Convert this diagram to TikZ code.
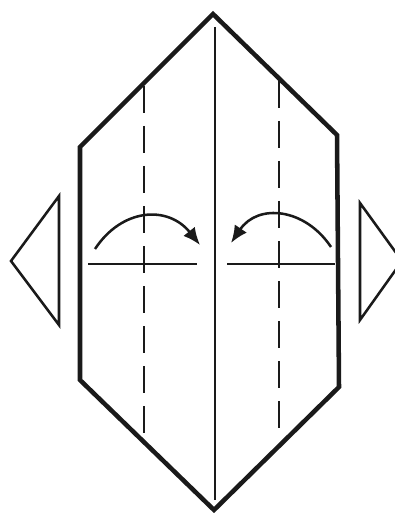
\documentclass[tikz,border=0pt]{standalone}
\usetikzlibrary{arrows.meta}
\definecolor{fold-line}{HTML}{1A1A1A}
\tikzset{
  paper-edge/.style={draw=fold-line, line width=3.4pt, line join=miter},
  crease/.style={draw=fold-line, line width=1.9pt},
  valley/.style={draw=fold-line, line width=1.9pt, dash pattern=on 20pt off 10pt},
  flap/.style={draw=fold-line, line width=1.9pt},
  fold-arrow/.style={draw=fold-line, line width=1.9pt, -{Latex[length=13pt,width=11pt]}}
}
\begin{document}
\begin{tikzpicture}[x=0.75pt,y=-0.75pt]
  \useasboundingbox (0,0) rectangle (395,513);
  % outline
  \coordinate (top) at (213,14);
  \coordinate (ne) at (337,135);
  \coordinate (se) at (339,387);
  \coordinate (bot) at (214,510);
  \coordinate (sw) at (80,380);
  \coordinate (nw) at (80,147);
  \draw[paper-edge] (top) -- (ne) -- (se) -- (bot) -- (sw) -- (nw) -- cycle;
  \coordinate (midtop) at (215,27);
  \coordinate (midbot) at (215,500);
  \draw[crease] (midtop) -- (midbot);
  % dashed folds
  \coordinate (lefttop) at (144,86);
  \coordinate (leftbot) at (144,437);
  \coordinate (righttop) at (279,81);
  \coordinate (rightbot) at (279,437);
  \draw[valley] (lefttop) -- (leftbot);
  \draw[valley] (righttop) -- (rightbot);
  % level lines
  \coordinate (la) at (88,264);
  \coordinate (lb) at (197,264);
  \coordinate (ra) at (227,264);
  \coordinate (rb) at (335,264);
  \draw[crease] (la) -- (lb);
  \draw[crease] (ra) -- (rb);
  % arrows
  \coordinate (arrowla) at (95,249);
  \coordinate (arrowlb) at (200,245);
  \coordinate (arrowra) at (331,247);
  \coordinate (arrowrb) at (231,243);
  \draw[fold-arrow] (arrowla) .. controls (122,208) and (168,205) .. (arrowlb);
  \draw[fold-arrow] (arrowra) .. controls (305,208) and (258,203) .. (arrowrb);
  % side flaps
  \coordinate (fl1) at (59,196);
  \coordinate (fl2) at (11,261);
  \coordinate (fl3) at (59,325);
  \coordinate (fr1) at (360,203);
  \coordinate (fr2) at (402,261);
  \coordinate (fr3) at (360,320);
  \draw[flap] (fl1) -- (fl2) -- (fl3) -- cycle;
  \draw[flap] (fr1) -- (fr2) -- (fr3) -- cycle;
\end{tikzpicture}
\end{document}
